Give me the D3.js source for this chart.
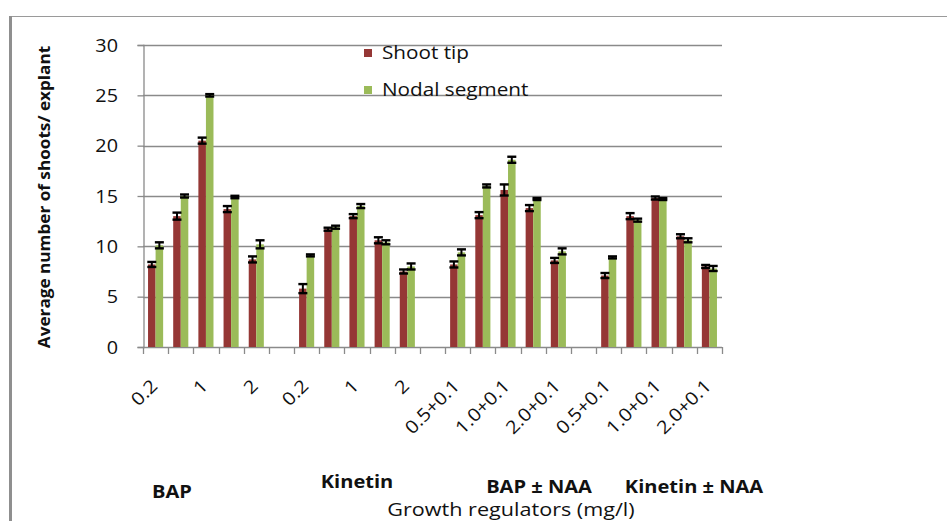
<!DOCTYPE html>
<html>
<head>
<meta charset="utf-8">
<script src="https://cdn.jsdelivr.net/npm/d3@7"></script>
<style>
  html, body { margin: 0; padding: 0; background: #fff; }
  svg { display: block; }
  text { font-family: "Open Sans", Lato, sans-serif; fill: #111; }
</style>
</head>
<body>
<svg id="chart" width="947" height="521"></svg>
<script>
// Tick labels for the 23 category slots (every other slot is labelled; gaps separate the four regulator groups)
const tickLabels = [
  "0.2", "", "1", "", "2", "",
  "0.2", "", "1", "", "2", "",
  "0.5+0.1", "", "1.0+0.1", "", "2.0+0.1", "",
  "0.5+0.1", "", "1.0+0.1", "", "2.0+0.1"
];
const seriesNames = ["Shoot tip", "Nodal segment"];
const seriesColors = ["#953735", "#9BBB59"];

// Mean shoots per explant
const shootTip = [8.2, 13.0, 20.5, 13.7, 8.7, null, 5.8, 11.7, 13.0, 10.6, 7.5, null, 8.2, 13.1, 15.6, 13.8, 8.6, null, 7.1, 13.0, 14.8, 11.0, 8.0];
const nodalSegment = [10.1, 15.0, 25.0, 14.9, 10.2, null, 9.1, 11.9, 14.0, 10.4, 8.0, null, 9.4, 16.0, 18.6, 14.7, 9.5, null, 8.9, 12.6, 14.7, 10.6, 7.8];
// Standard errors
const shootTipErr = [0.25, 0.35, 0.3, 0.3, 0.3, null, 0.45, 0.15, 0.2, 0.3, 0.2, null, 0.3, 0.3, 0.55, 0.3, 0.25, null, 0.25, 0.3, 0.15, 0.2, 0.15];
const nodalSegmentErr = [0.3, 0.15, 0.12, 0.12, 0.4, null, 0.1, 0.15, 0.2, 0.2, 0.3, null, 0.3, 0.15, 0.3, 0.1, 0.3, null, 0.1, 0.15, 0.1, 0.2, 0.25];

const yTicks = [0, 5, 10, 15, 20, 25, 30];
const groupNames = ["BAP", "Kinetin", "BAP ± NAA", "Kinetin ± NAA"];

const svg = d3.select("#chart");

// text slightly widened horizontally, like the original chart export
function wideText(parent, x, y, str, opts) {
  const o = Object.assign({ size: 18, weight: "normal", anchor: "start", sx: 1.15, rotate: 0 }, opts || {});
  return parent.append("text")
    .attr("transform", `translate(${x},${y}) rotate(${o.rotate}) scale(${o.sx},1)`)
    .attr("text-anchor", o.anchor)
    .style("font-size", o.size + "px")
    .style("font-weight", o.weight)
    .text(str);
}

// outer frame
svg.append("line").attr("x1", 10).attr("x2", 947).attr("y1", 16.5).attr("y2", 16.5)
  .attr("stroke", "#9a9a9a").attr("stroke-width", 1.2);
svg.append("line").attr("x1", 10.5).attr("x2", 10.5).attr("y1", 16).attr("y2", 521)
  .attr("stroke", "#8f8f8f").attr("stroke-width", 3);

const plot = { left: 143, right: 722, top: 45, bottom: 347 };

const x = d3.scaleBand()
  .domain(d3.range(tickLabels.length))
  .range([plot.left, plot.right])
  .paddingInner(0).paddingOuter(0);

const y = d3.scaleLinear().domain([0, 30]).range([plot.bottom, plot.top]);

const inner = d3.scaleBand()
  .domain([0, 1])
  .range([x.bandwidth() * 0.2, x.bandwidth() * 0.8]);

// gridlines
svg.append("g").selectAll("line")
  .data(yTicks.filter(d => d > 0))
  .join("line")
  .attr("x1", plot.left).attr("x2", plot.right)
  .attr("y1", d => Math.round(y(d)) + 0.5).attr("y2", d => Math.round(y(d)) + 0.5)
  .attr("stroke", "#8a8a8a").attr("stroke-width", 1.3);

// y axis
const yAxis = svg.append("g")
  .attr("transform", `translate(${plot.left + 0.5},0)`)
  .call(d3.axisLeft(y).tickValues(yTicks).tickSize(6).tickFormat(""));
yAxis.select(".domain").attr("stroke", "#8a8a8a").attr("stroke-width", 1.3);
yAxis.selectAll(".tick line").attr("stroke", "#8a8a8a").attr("stroke-width", 1.3);
const yLabels = svg.append("g");
yTicks.forEach(t => wideText(yLabels, 118, y(t) + 6.5, String(t), { size: 18, anchor: "end", sx: 1.1 }));

// x axis baseline and boundary ticks
const bounds = d3.range(tickLabels.length).map(i => x(i)).concat([plot.right]);
svg.append("line").attr("x1", plot.left).attr("x2", plot.right)
  .attr("y1", plot.bottom + 0.5).attr("y2", plot.bottom + 0.5)
  .attr("stroke", "#8a8a8a").attr("stroke-width", 1.3);
svg.append("g").selectAll("line").data(bounds).join("line")
  .attr("x1", d => Math.round(d) + 0.5).attr("x2", d => Math.round(d) + 0.5)
  .attr("y1", plot.bottom).attr("y2", plot.bottom + 7)
  .attr("stroke", "#8a8a8a").attr("stroke-width", 1.3);

// bars
const series = [
  { name: seriesNames[0], values: shootTip, errs: shootTipErr, color: seriesColors[0] },
  { name: seriesNames[1], values: nodalSegment, errs: nodalSegmentErr, color: seriesColors[1] }
];

series.forEach((s, si) => {
  const g = svg.append("g");
  const pts = s.values.map((v, i) => ({ i, v, e: s.errs[i] })).filter(d => d.v != null);
  g.selectAll("rect").data(pts).join("rect")
    .attr("x", d => x(d.i) + inner(si))
    .attr("width", inner.bandwidth())
    .attr("y", d => y(d.v))
    .attr("height", d => y(0) - y(d.v))
    .attr("fill", s.color);
  s.pts = pts;
});

// error bars drawn on top of both series
series.forEach((s, si) => {
  const g = svg.append("g").attr("stroke", "#000").attr("stroke-width", 2);
  s.pts.forEach(d => {
    const cx = x(d.i) + inner(si) + inner.bandwidth() / 2;
    const y1 = y(d.v + d.e), y2 = y(d.v - d.e);
    g.append("line").attr("x1", cx).attr("x2", cx).attr("y1", y1).attr("y2", y2);
    g.append("line").attr("x1", cx - 4.5).attr("x2", cx + 4.5).attr("y1", y1).attr("y2", y1).attr("stroke-width", 2.4);
    g.append("line").attr("x1", cx - 4.5).attr("x2", cx + 4.5).attr("y1", y2).attr("y2", y2).attr("stroke-width", 2.4);
  });
});

// rotated category labels
const xLabels = svg.append("g");
tickLabels.forEach((t, i) => {
  if (t === "") return;
  wideText(xLabels, x(i) + x.bandwidth() / 2 + 3, plot.bottom + 40, t,
    { size: 18, anchor: "end", sx: 1.12, rotate: -45 });
});

// legend
const legend = svg.append("g");
const legendRows = [{ y: 53, label: seriesNames[0], color: seriesColors[0] }, { y: 90, label: seriesNames[1], color: seriesColors[1] }];
legendRows.forEach(r => {
  legend.append("rect").attr("x", 364).attr("y", r.y - 4).attr("width", 8).attr("height", 8).attr("fill", r.color);
  wideText(legend, 382, r.y + 6, r.label, { size: 18.5, sx: 1.12 });
});

// group labels
const groupPos = [[172, 498], [357, 488], [539, 493], [694, 493]];
const groups = svg.append("g");
groupNames.forEach((n, i) => wideText(groups, groupPos[i][0], groupPos[i][1], n,
  { size: 17, weight: "bold", anchor: "middle", sx: 1.18 }));

// axis titles
wideText(svg, 511, 516, "Growth regulators (mg/l)", { size: 18, anchor: "middle", sx: 1.2 });
wideText(svg, 50, (plot.top + plot.bottom) / 2 + 1, "Average number of shoots/ explant",
  { size: 16.5, weight: "bold", anchor: "middle", sx: 1.04, rotate: -90 });
</script>
</body>
</html>
